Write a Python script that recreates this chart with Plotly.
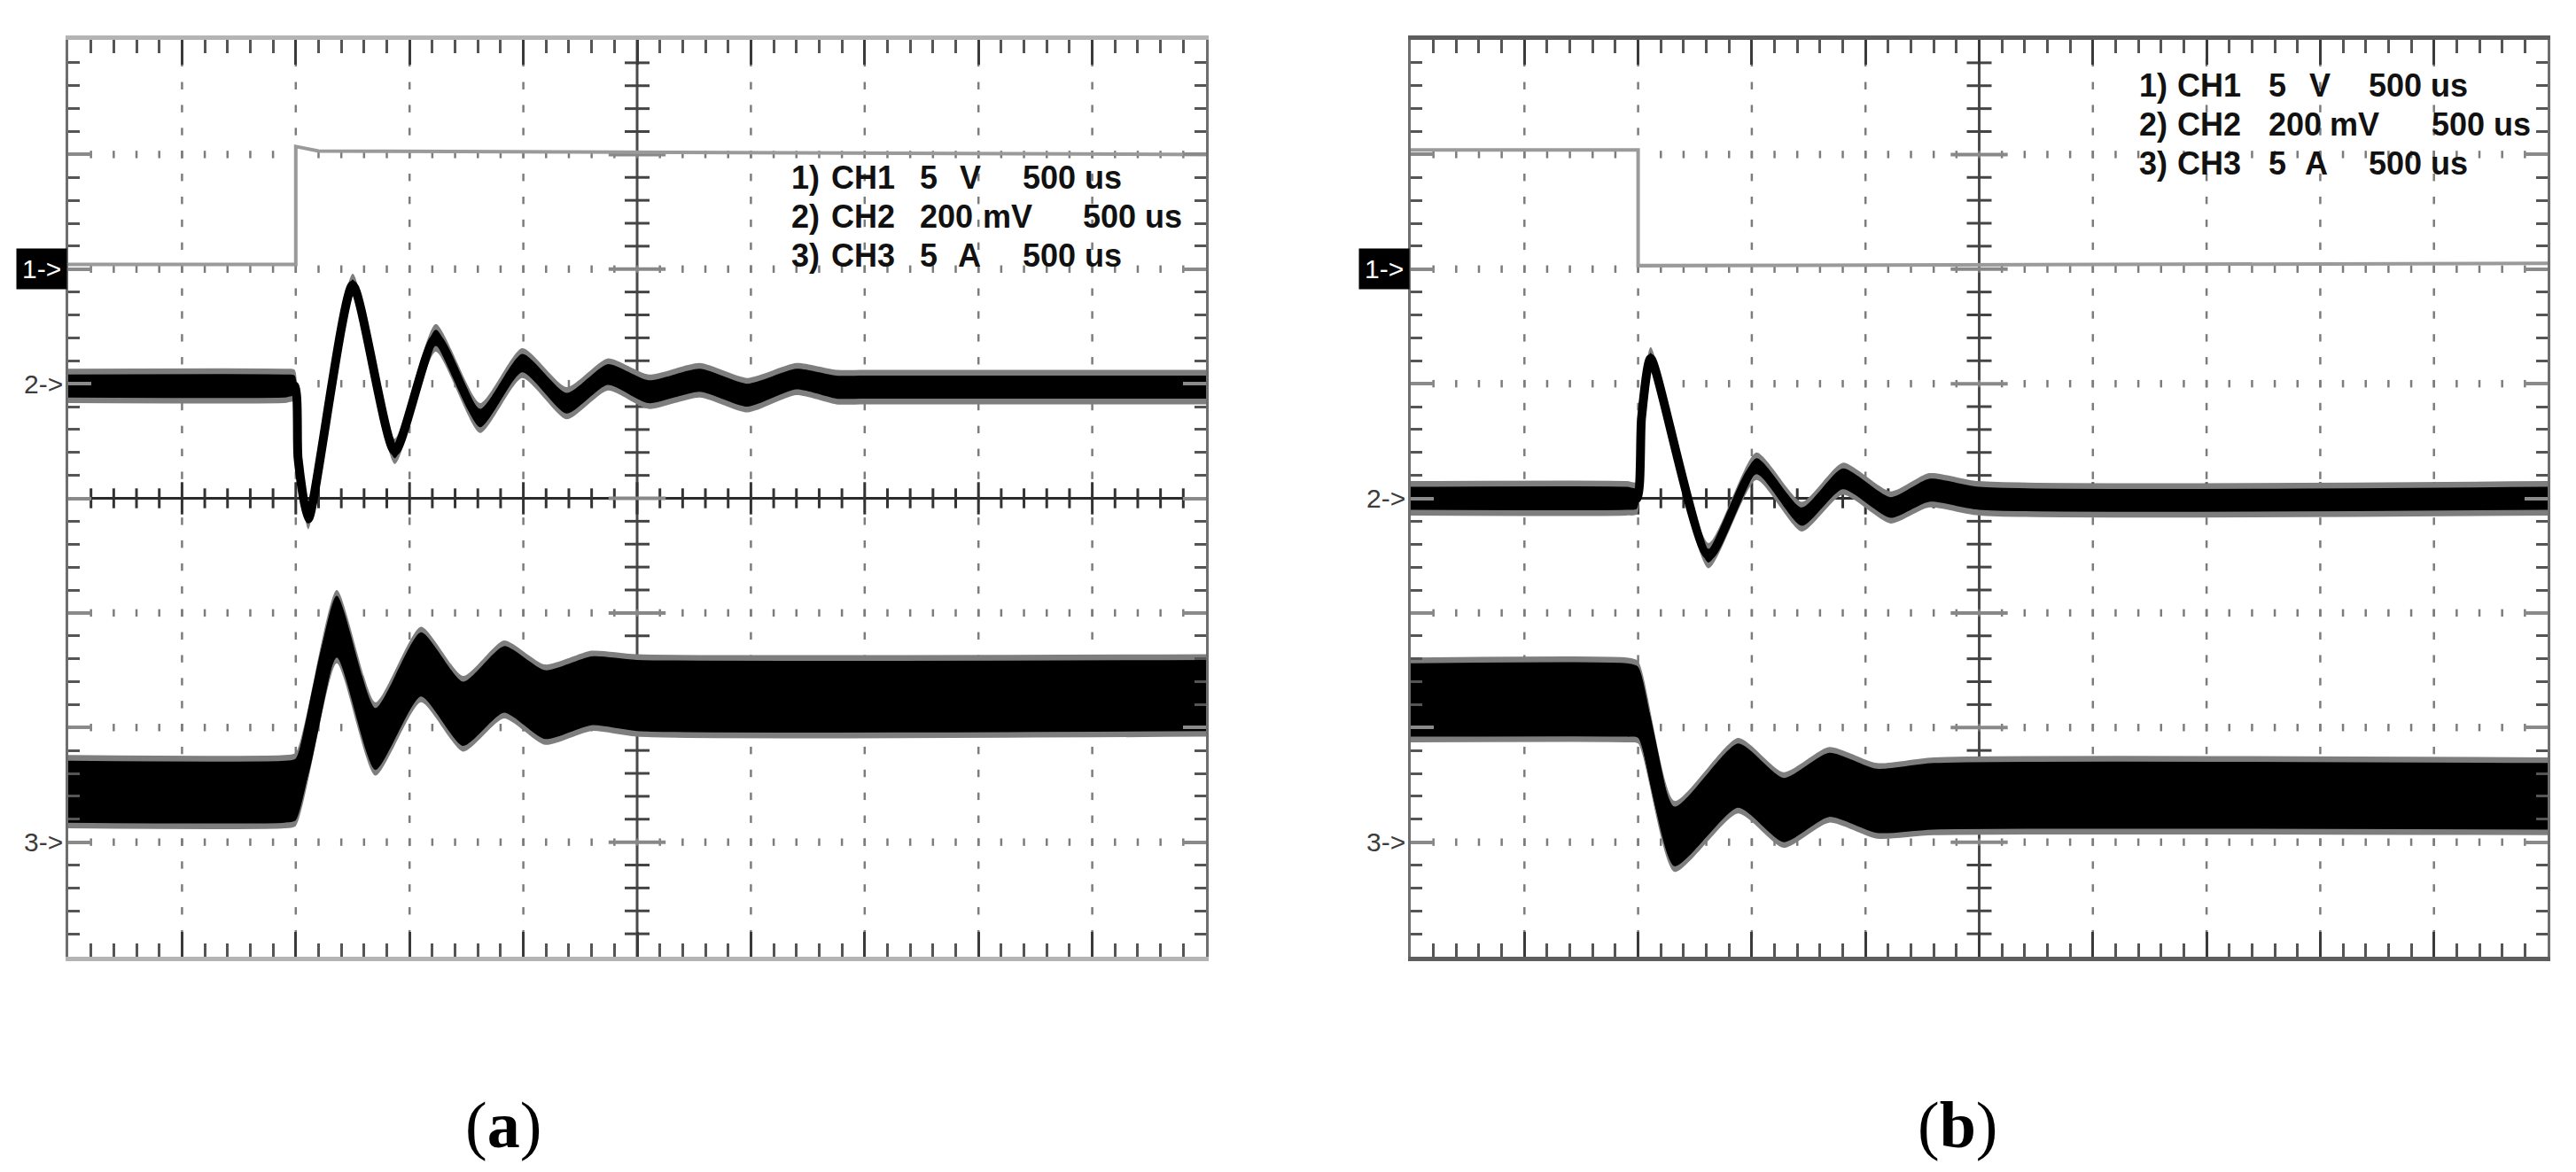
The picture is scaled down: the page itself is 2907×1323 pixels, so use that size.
import numpy as np
import plotly.graph_objects as go

# all values are in screen divisions: x 0..10 (500 us/div), y 0..8

# ---- panel (a) ----
a_ch1_x = [0, 2.0, 2.0, 2.2, 10]
a_ch1_y = [6.04, 6.04, 7.07, 7.03, 7.0]

a_ch2_x = [0, 1.90, 1.99, 2.02, 2.11, 2.50, 2.87, 3.23, 3.62, 3.99, 4.38, 4.74, 5.10, 5.55, 5.97, 6.40, 6.75, 7.00, 10]
a_ch2_y = [4.98, 4.98, 4.98, 4.35, 3.82, 5.86, 4.41, 5.40, 4.70, 5.18, 4.83, 5.08, 4.93, 5.03, 4.90, 5.04, 4.97, 4.97, 4.97]
a_ch2_w = [0.10, 0.10, 0.09, 0.04, 0.04, 0.05, 0.06, 0.07, 0.08, 0.08, 0.09, 0.09, 0.10, 0.10, 0.10, 0.09, 0.10, 0.10, 0.10]

a_ch3_x = [0, 1.90, 2.00, 2.36, 2.70, 3.10, 3.47, 3.83, 4.19, 4.60, 5.00, 10]
a_ch3_y = [1.44, 1.44, 1.46, 2.88, 1.90, 2.55, 2.12, 2.42, 2.20, 2.32, 2.28, 2.28]
a_ch3_w = [0.27, 0.27, 0.27, 0.27, 0.27, 0.28, 0.28, 0.29, 0.30, 0.30, 0.31, 0.31]

# ---- panel (b) ----
b_ch1_x = [0, 2.0, 2.0, 10]
b_ch1_y = [7.04, 7.04, 6.03, 6.05]

b_ch2_x = [0, 1.90, 1.99, 2.03, 2.11, 2.62, 3.04, 3.44, 3.80, 4.22, 4.56, 5.00, 10]
b_ch2_y = [4.00, 4.00, 4.00, 4.70, 5.22, 3.50, 4.28, 3.84, 4.17, 3.92, 4.07, 4.00, 4.00]
b_ch2_w = [0.10, 0.10, 0.09, 0.04, 0.05, 0.06, 0.07, 0.08, 0.09, 0.09, 0.10, 0.10, 0.10]

b_ch3_x = [0, 1.90, 2.00, 2.32, 2.88, 3.28, 3.68, 4.10, 4.60, 10]
b_ch3_y = [2.24, 2.24, 2.22, 1.05, 1.58, 1.28, 1.50, 1.36, 1.40, 1.40]
b_ch3_w = [0.32, 0.32, 0.31, 0.26, 0.28, 0.28, 0.28, 0.28, 0.29, 0.29]

# channel marker levels (1->, 2->, 3->)
a_marks = [6, 5, 1]
b_marks = [6, 4, 1]

# readout text
rd_num = ["1)", "2)", "3)"]
rd_ch = ["CH1", "CH2", "CH3"]
rd_val = ["5", "200", "5"]
rd_unit = ["V", "mV", "A"]
rd_time = ["500 us", "500 us", "500 us"]

panel_labels = ["a", "b"]

fig = go.Figure()

W, H = 2907, 1323
xdom = {"a": [69 / W, 1353 / W], "b": [1584 / W, 2867 / W]}
ydom = [(H - 1072) / H, (H - 37) / H]
ax = {"a": ("x", "y"), "b": ("x2", "y2")}


def scope_axes(dom, frame_x, frame_y):
    xa = dict(domain=dom, range=[0, 10], showline=True, linecolor=frame_x, linewidth=5,
              mirror="allticks", ticks="inside", ticklen=28, tickwidth=3, tickcolor="#3a3a3a",
              tick0=0, dtick=1, showticklabels=False, showgrid=False, zeroline=False,
              minor=dict(tick0=0, dtick=0.2, ticks="inside", ticklen=15, tickwidth=3,
                         tickcolor="#555555", showgrid=False))
    ya = dict(domain=ydom, range=[0, 8], showline=True, linecolor=frame_y, linewidth=3,
              mirror="allticks", ticks="inside", ticklen=26, tickwidth=4, tickcolor="#8a8a8a",
              tick0=0, dtick=1, showticklabels=False, showgrid=False, zeroline=False,
              minor=dict(tick0=0, dtick=0.2, ticks="inside", ticklen=13, tickwidth=3,
                         tickcolor="#555555", showgrid=False))
    return xa, ya


def grid_marks(key):
    xr, yr = ax[key]
    minor_x = np.round(np.arange(0.2, 10, 0.2), 2)
    minor_y = np.round(np.arange(0.2, 8, 0.2), 2)
    gx, gy = [], []
    for xv in [1, 2, 3, 4, 6, 7, 8, 9]:
        gx += [xv] * len(minor_y)
        gy += list(minor_y)
    for yv in [1, 2, 3, 5, 6, 7]:
        gx += list(minor_x)
        gy += [yv] * len(minor_x)
    fig.add_trace(go.Scatter(x=gx, y=gy, mode="markers", xaxis=xr, yaxis=yr, hoverinfo="skip",
                             marker=dict(symbol="line-ns", size=6, line=dict(width=2.5, color="#7c7c7c"))))
    # cross ticks on the centre lines
    big_x = [v for v in minor_x if abs(v - round(v)) < 1e-6]
    small_x = [v for v in minor_x if abs(v - round(v)) >= 1e-6]
    big_y = [v for v in minor_y if abs(v - round(v)) < 1e-6]
    small_y = [v for v in minor_y if abs(v - round(v)) >= 1e-6]
    fig.add_trace(go.Scatter(x=small_x, y=[4] * len(small_x), mode="markers", xaxis=xr, yaxis=yr,
                             hoverinfo="skip",
                             marker=dict(symbol="line-ns", size=16, line=dict(width=3, color="#333333"))))
    fig.add_trace(go.Scatter(x=big_x, y=[4] * len(big_x), mode="markers", xaxis=xr, yaxis=yr,
                             hoverinfo="skip",
                             marker=dict(symbol="line-ns", size=26, line=dict(width=3, color="#333333"))))
    fig.add_trace(go.Scatter(x=[5] * len(small_y), y=small_y, mode="markers", xaxis=xr, yaxis=yr,
                             hoverinfo="skip",
                             marker=dict(symbol="line-ew", size=20, line=dict(width=3, color="#444444"))))
    fig.add_trace(go.Scatter(x=[5] * len(big_y), y=big_y, mode="markers", xaxis=xr, yaxis=yr,
                             hoverinfo="skip",
                             marker=dict(symbol="line-ew", size=46, line=dict(width=4, color="#888888"))))


def band(key, x, y, hw, core=10, fringe=0.05):
    xr, yr = ax[key]
    sp = dict(shape="spline", smoothing=0.6, width=0)
    for extra, col in [(fringe, "#7e7e7e"), (0.0, "#000000")]:
        lo = [v - w - extra for v, w in zip(y, hw)]
        up = [v + w + extra for v, w in zip(y, hw)]
        fig.add_trace(go.Scatter(x=x, y=lo, mode="lines", xaxis=xr, yaxis=yr, line=dict(sp, color=col),
                                 hoverinfo="skip"))
        fig.add_trace(go.Scatter(x=x, y=up, mode="lines", xaxis=xr, yaxis=yr, line=dict(sp, color=col),
                                 fill="tonexty", fillcolor=col, hoverinfo="skip"))
    fig.add_trace(go.Scatter(x=x, y=y, mode="lines", xaxis=xr, yaxis=yr, hoverinfo="skip",
                             line=dict(shape="spline", smoothing=0.6, width=core, color="#000000")))


def step(key, x, y, col):
    xr, yr = ax[key]
    fig.add_trace(go.Scatter(x=x, y=y, mode="lines", xaxis=xr, yaxis=yr, hoverinfo="skip",
                             line=dict(width=4, color=col)))


for key in ["a", "b"]:
    grid_marks(key)

step("a", a_ch1_x, a_ch1_y, "#9a9a9a")
band("a", a_ch2_x, a_ch2_y, a_ch2_w, core=10)
band("a", a_ch3_x, a_ch3_y, a_ch3_w, core=16)
step("b", b_ch1_x, b_ch1_y, "#9a9a9a")
band("b", b_ch2_x, b_ch2_y, b_ch2_w, core=10)
band("b", b_ch3_x, b_ch3_y, b_ch3_w, core=16)

xa1, ya1 = scope_axes(xdom["a"], "#b4b4b4", "#6e6e6e")
xa2, ya2 = scope_axes(xdom["b"], "#5e5e5e", "#6e6e6e")
xa2["anchor"] = "y2"
ya2["anchor"] = "x2"

shapes = []
for key in ["a", "b"]:
    xr, yr = ax[key]
    shapes.append(dict(type="line", xref=xr, yref=yr, x0=0, x1=10, y0=4, y1=4, layer="below",
                       line=dict(color="#2a2a2a", width=3)))
    shapes.append(dict(type="line", xref=xr, yref=yr, x0=5, x1=5, y0=0, y1=8, layer="below",
                       line=dict(color="#4a4a4a", width=3)))

annotations = []
txt_font = dict(family="Liberation Sans, Arial, sans-serif", size=36, color="#111111")
readout_pos = {
    "a": dict(rows=[6.80, 6.46, 6.12], num=6.34, ch=6.69, val=7.47, unit=[7.82, 8.02, 7.80],
              time=[8.37, 8.90, 8.37]),
    "b": dict(rows=[7.60, 7.26, 6.92], num=6.39, ch=6.73, val=7.53, unit=[7.89, 8.07, 7.85],
              time=[8.41, 8.96, 8.41]),
}
for key in ["a", "b"]:
    xr, yr = ax[key]
    p = readout_pos[key]
    for i in range(3):
        pieces = [(p["num"], rd_num[i]), (p["ch"], rd_ch[i]), (p["val"], rd_val[i]),
                  (p["unit"][i], rd_unit[i]), (p["time"][i], rd_time[i])]
        for xv, t in pieces:
            annotations.append(dict(x=xv, y=p["rows"][i], xref=xr, yref=yr, text="<b>" + t + "</b>",
                                    showarrow=False, xanchor="left", yanchor="middle", font=txt_font))

    marks = a_marks if key == "a" else b_marks
    for i, lv in enumerate(marks):
        lab = str(i + 1) + "->"
        if i == 0:
            annotations.append(dict(x=0, y=lv, xref=xr, yref=yr, text=lab, showarrow=False,
                                    xanchor="right", yanchor="middle", xshift=-1,
                                    bgcolor="#000000", borderpad=6,
                                    font=dict(family="Liberation Sans Narrow, Liberation Sans, sans-serif",
                                              size=30, color="#ffffff")))
        else:
            annotations.append(dict(x=0, y=lv, xref=xr, yref=yr, text=lab, showarrow=False,
                                    xanchor="right", yanchor="middle", xshift=-4,
                                    font=dict(family="Liberation Sans Narrow, Liberation Sans, sans-serif",
                                              size=30, color="#3c3c3c")))

label_x = {"a": 560 / W, "b": 2201 / W}
for lab in panel_labels:
    annotations.append(dict(x=label_x[lab], y=(H - 1262) / H, xref="paper", yref="paper",
                            text="(<b>" + lab + "</b>)", showarrow=False, xanchor="center",
                            yanchor="middle",
                            font=dict(family="Liberation Serif, Times New Roman, serif", size=74,
                                      color="#000000")))

fig.update_layout(
    width=W, height=H, autosize=False,
    margin=dict(l=0, r=0, t=0, b=0),
    paper_bgcolor="#ffffff", plot_bgcolor="#ffffff",
    showlegend=False,
    xaxis=xa1, yaxis=ya1, xaxis2=xa2, yaxis2=ya2,
    shapes=shapes, annotations=annotations,
)

fig.write_html("out.html")
